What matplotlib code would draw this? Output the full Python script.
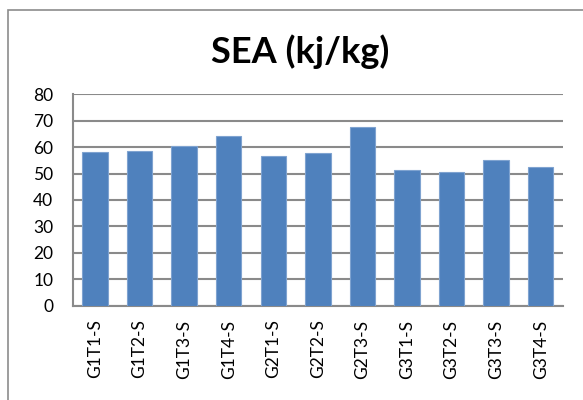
import matplotlib
matplotlib.use("Agg")
import matplotlib.pyplot as plt
from matplotlib.patches import Rectangle

categories = ["G1T1-S", "G1T2-S", "G1T3-S", "G1T4-S", "G2T1-S", "G2T2-S",
              "G2T3-S", "G3T1-S", "G3T2-S", "G3T3-S", "G3T4-S"]
sea_values = [58.2, 58.5, 60.4, 64.3, 56.6, 57.9, 67.5, 51.2, 50.5, 55.1, 52.5]
y_ticks = [0, 10, 20, 30, 40, 50, 60, 70, 80]
title = "SEA (kj/kg)"

plt.rcParams['font.family'] = ['Lato', 'DejaVu Sans']

W, H, DPI = 583, 400, 100
fig = plt.figure(figsize=(W / DPI, H / DPI), dpi=DPI)

# outer chart frame
frame = Rectangle((7.5 / W, -0.05), 1.1, (H - 9.5) / H + 0.05,
                  transform=fig.transFigure, fill=False,
                  edgecolor="#8c8c8c", linewidth=1.2, zorder=0)
fig.patches.append(frame)

left, right, top, bottom = 72.7, 563.0, 94.3, 305.7
ax = fig.add_axes([left / W, 1 - bottom / H, (right - left) / W, (bottom - top) / H])

x = range(len(categories))
ax.bar(x, sea_values, width=0.57, color="#4F81BD", edgecolor="#7FA3D0",
       linewidth=0.8, zorder=3)

ax.set_xlim(-0.5, len(categories) - 0.5)
ax.set_ylim(0, 80)
ax.set_yticks(y_ticks)
ax.set_yticklabels([str(v) for v in y_ticks], fontsize=12.5)
ax.set_xticks(list(x))
ax.set_xticklabels(categories, rotation=90, fontsize=12.5)
ax.tick_params(axis="x", length=0, pad=10)
ax.tick_params(axis="y", length=0, pad=14)

ax.yaxis.grid(True, color="#8a8a8a", linewidth=1.5, zorder=0)
ax.set_axisbelow(True)
for s in ["top", "right"]:
    ax.spines[s].set_visible(False)
for s in ["left", "bottom"]:
    ax.spines[s].set_color("#8a8a8a")
    ax.spines[s].set_linewidth(1.5)

fig.text(300 / W, 1 - 52 / H, title, ha="center", va="center",
         fontsize=26, fontweight="bold")

fig.savefig("out.png", dpi=DPI)
